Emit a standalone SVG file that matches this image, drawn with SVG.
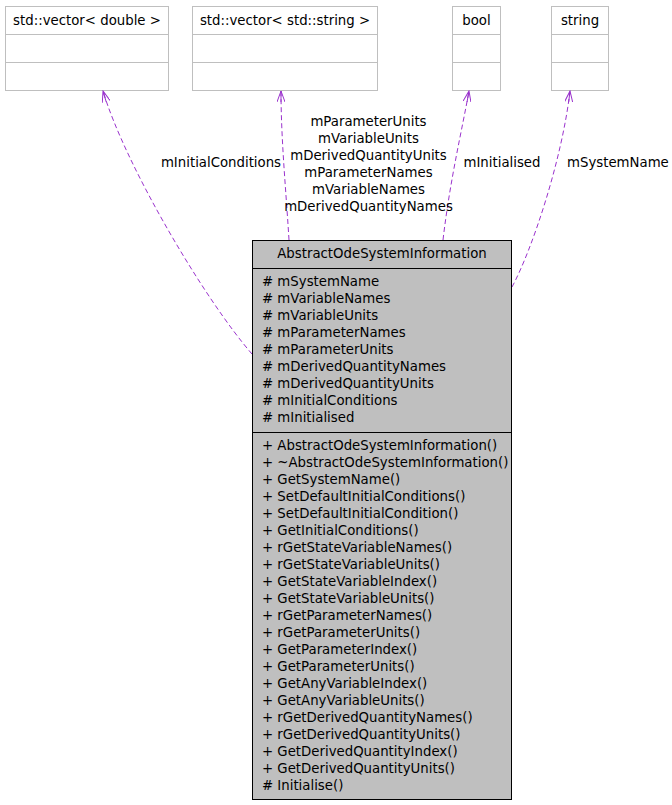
<svg xmlns="http://www.w3.org/2000/svg" width="672" height="805" viewBox="0 0 672 805">
<style>
text{font-family:"DejaVu Sans","Liberation Sans",sans-serif;font-size:13.3px;fill:#000}
.ext rect{fill:#fff;stroke:#bfbfbf;stroke-width:1}
.ext line{stroke:#bfbfbf;stroke-width:1}
.c{text-anchor:middle}
.main rect{fill:#bfbfbf;stroke:#000;stroke-width:1}
.main line{stroke:#000;stroke-width:1}
.edge{fill:none;stroke:#9a32cd;stroke-width:1;stroke-dasharray:5,3;marker-end:url(#arr)}
</style>
<defs>
<marker id="arr" viewBox="0 0 12 8" refX="11" refY="4" markerWidth="12" markerHeight="8" markerUnits="userSpaceOnUse" orient="auto">
<path d="M0,0 L11,4 L0,8 M0,4 L11,4" fill="none" stroke="#9a32cd" stroke-width="1"/>
</marker>
</defs>
<rect width="672" height="805" fill="#fff"/>
<g id="vec_double" class="ext">
<rect x="5.5" y="6.5" width="163" height="84"/>
<line x1="5.5" y1="34.5" x2="168.5" y2="34.5"/>
<line x1="5.5" y1="62.5" x2="168.5" y2="62.5"/>
<text x="87" y="25" class="c">std::vector&lt; double &gt;</text>
</g>
<g id="vec_string" class="ext">
<rect x="192.5" y="6.5" width="185" height="84"/>
<line x1="192.5" y1="34.5" x2="377.5" y2="34.5"/>
<line x1="192.5" y1="62.5" x2="377.5" y2="62.5"/>
<text x="285" y="25" class="c">std::vector&lt; std::string &gt;</text>
</g>
<g id="bool" class="ext">
<rect x="452.5" y="6.5" width="48" height="84"/>
<line x1="452.5" y1="34.5" x2="500.5" y2="34.5"/>
<line x1="452.5" y1="62.5" x2="500.5" y2="62.5"/>
<text x="476.5" y="25" class="c">bool</text>
</g>
<g id="string" class="ext">
<rect x="551.5" y="6.5" width="57" height="84"/>
<line x1="551.5" y1="34.5" x2="608.5" y2="34.5"/>
<line x1="551.5" y1="62.5" x2="608.5" y2="62.5"/>
<text x="580" y="25" class="c">string</text>
</g>
<g id="edges">
<path class="edge" d="M252,354 C205,300 125,165 103,91"/>
<path class="edge" d="M289,240 C286,190 281,140 281,91"/>
<path class="edge" d="M443,240 C450,180 462,130 469,91"/>
<path class="edge" d="M512,287 C532,250 562,160 570,91"/>
<text x="221" y="167" class="c">mInitialConditions</text>
<text x="368.5" y="126" class="c">mParameterUnits</text>
<text x="368.5" y="143" class="c">mVariableUnits</text>
<text x="368.5" y="160" class="c">mDerivedQuantityUnits</text>
<text x="368.5" y="177" class="c">mParameterNames</text>
<text x="368.5" y="194" class="c">mVariableNames</text>
<text x="368.5" y="211" class="c">mDerivedQuantityNames</text>
<text x="502" y="167" class="c">mInitialised</text>
<text x="567" y="167">mSystemName</text>
</g>
<g id="AbstractOdeSystemInformation" class="main">
<rect x="252.5" y="240.5" width="259" height="559"/>
<line x1="252.5" y1="268.5" x2="511.5" y2="268.5"/>
<line x1="252.5" y1="432.5" x2="511.5" y2="432.5"/>
<text x="382" y="258" class="c">AbstractOdeSystemInformation</text>
<text x="262" y="286"># mSystemName</text>
<text x="262" y="303"># mVariableNames</text>
<text x="262" y="320"># mVariableUnits</text>
<text x="262" y="337"># mParameterNames</text>
<text x="262" y="354"># mParameterUnits</text>
<text x="262" y="371"># mDerivedQuantityNames</text>
<text x="262" y="388"># mDerivedQuantityUnits</text>
<text x="262" y="405"># mInitialConditions</text>
<text x="262" y="422"># mInitialised</text>
<text x="262" y="450">+ AbstractOdeSystemInformation()</text>
<text x="262" y="467">+ ~AbstractOdeSystemInformation()</text>
<text x="262" y="484">+ GetSystemName()</text>
<text x="262" y="501">+ SetDefaultInitialConditions()</text>
<text x="262" y="518">+ SetDefaultInitialCondition()</text>
<text x="262" y="535">+ GetInitialConditions()</text>
<text x="262" y="552">+ rGetStateVariableNames()</text>
<text x="262" y="569">+ rGetStateVariableUnits()</text>
<text x="262" y="586">+ GetStateVariableIndex()</text>
<text x="262" y="603">+ GetStateVariableUnits()</text>
<text x="262" y="620">+ rGetParameterNames()</text>
<text x="262" y="637">+ rGetParameterUnits()</text>
<text x="262" y="654">+ GetParameterIndex()</text>
<text x="262" y="671">+ GetParameterUnits()</text>
<text x="262" y="688">+ GetAnyVariableIndex()</text>
<text x="262" y="705">+ GetAnyVariableUnits()</text>
<text x="262" y="722">+ rGetDerivedQuantityNames()</text>
<text x="262" y="739">+ rGetDerivedQuantityUnits()</text>
<text x="262" y="756">+ GetDerivedQuantityIndex()</text>
<text x="262" y="773">+ GetDerivedQuantityUnits()</text>
<text x="262" y="790"># Initialise()</text>
</g>
</svg>
